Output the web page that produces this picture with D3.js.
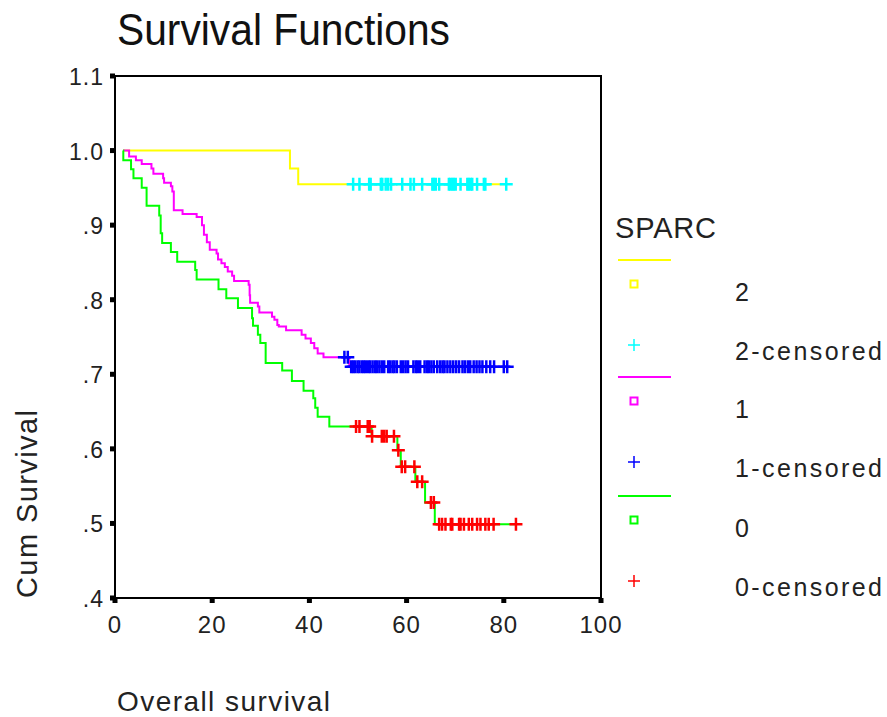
<!DOCTYPE html>
<html>
<head>
<meta charset="utf-8">
<script src="https://cdn.jsdelivr.net/npm/d3@7"></script>
<style>
  html, body { margin: 0; padding: 0; background: #fff; }
  svg { display: block; font-family: "Liberation Sans", Arial, sans-serif; }
</style>
</head>
<body>
<div id="chart"></div>
<script>
// Kaplan-Meier steps: time of each drop and the new survival
const g2Time = [1.7, 36.0, 37.7];
const g2Surv = [1.0, 0.976, 0.955];
const g2Cens = [49.0, 50.3, 52.3, 52.6, 54.7, 55.0, 55.7, 56.2, 56.8, 59.1, 60.8, 61.5, 63.2, 65.3, 65.6,
  66.0, 66.7, 68.7, 69.0, 69.4, 69.7, 70.1, 71.1, 72.5, 72.8, 73.2, 73.5, 74.5, 75.9, 76.2, 80.5];

const g1Time = [1.7, 2.9, 4.3, 5.5, 7.5, 7.9, 9.9, 10.1, 11.5, 11.8, 12.1, 13.9, 16.8, 17.9, 18.3, 18.9, 19.5,
  20.9, 21.2, 21.9, 22.6, 23.2, 24.1, 24.5, 27.5, 27.7, 27.8, 29.4, 29.7, 32.3, 32.8, 33.4, 33.7, 35.2,
  38.4, 39.2, 40.3, 41.0, 41.7, 42.9, 48.2];
const g1Surv = [1.0, 0.992, 0.987, 0.982, 0.976, 0.969, 0.963, 0.957, 0.952, 0.945, 0.920, 0.915, 0.911, 0.900,
  0.887, 0.877, 0.867, 0.862, 0.854, 0.849, 0.844, 0.838, 0.832, 0.825, 0.820, 0.806, 0.796, 0.791, 0.783,
  0.777, 0.773, 0.766, 0.764, 0.759, 0.753, 0.748, 0.742, 0.735, 0.728, 0.723, 0.710];
const g1Cens = [47.2, 47.9, 48.6, 49.0, 49.4, 49.9, 50.3, 50.8, 51.2, 51.6, 52.1, 52.5, 53.0, 53.5, 53.9, 54.4,
  54.9, 55.4, 56.2, 56.6, 57.1, 57.5, 58.0, 58.8, 59.3, 59.8, 60.3, 61.4, 61.9, 62.3, 62.8, 63.7, 64.2,
  64.6, 65.1, 65.6, 66.3, 66.9, 67.4, 67.8, 68.4, 69.0, 69.6, 70.2, 70.8, 71.5, 72.0, 72.6, 73.1, 73.8,
  74.4, 75.0, 75.6, 76.4, 77.2, 78.0, 80.0, 80.7];

const g0Time = [1.7, 1.71, 3.3, 3.8, 5.5, 6.5, 9.1, 9.4, 9.7, 11.5, 12.8, 16.5, 16.8, 21.3, 22.9, 25.3, 28.2, 28.4,
  29.4, 29.9, 31.0, 34.4, 36.4, 38.8, 40.8, 41.2, 41.7, 44.1, 52.8, 58.1, 58.8, 61.8, 63.8, 65.8];
const g0Surv = [1.0, 0.987, 0.975, 0.963, 0.950, 0.926, 0.913, 0.889, 0.876, 0.864, 0.851, 0.840, 0.827, 0.814,
  0.802, 0.789, 0.775, 0.765, 0.753, 0.742, 0.715, 0.705, 0.691, 0.678, 0.668, 0.655, 0.643, 0.630, 0.617,
  0.598, 0.576, 0.556, 0.528, 0.499];
const g0Cens = [49.6, 50.3, 52.0, 52.4, 52.9, 54.9, 55.4, 55.9, 57.4, 58.3, 59.0, 59.7, 61.6, 62.2, 63.2, 65.0,
  65.6, 66.7, 67.3, 68.0, 69.1, 69.4, 70.8, 71.1, 71.8, 72.8, 73.5, 74.5, 75.2, 76.2, 76.9, 77.9, 82.5];

const xTicks = [0, 20, 40, 60, 80, 100];
const yTicks = [0.4, 0.5, 0.6, 0.7, 0.8, 0.9, 1.0, 1.1];
const yTickLabels = ['.4', '.5', '.6', '.7', '.8', '.9', '1.0', '1.1'];
const legendLabels = ['2', '2-censored', '1', '1-censored', '0', '0-censored'];

const groups = [
  { time: g2Time, surv: g2Surv, cens: g2Cens, line: '#ffff00', mark: '#00ffff' },
  { time: g1Time, surv: g1Surv, cens: g1Cens, line: '#ff00ff', mark: '#0000ff' },
  { time: g0Time, surv: g0Surv, cens: g0Cens, line: '#00ff00', mark: '#ff0000' }
];

const W = 887, H = 717, m = { l: 115, r: 601, t: 76, b: 598 };
const svg = d3.select('#chart').append('svg').attr('width', W).attr('height', H);

const x = d3.scaleLinear().domain([0, 100]).range([m.l, m.r]);
const y = d3.scaleLinear().domain([0.4, 1.1]).range([m.b, m.t]);

// survival at time t from the step table
const survAt = (g, t) => { let s = g.surv[0]; g.time.forEach((tt, i) => { if (tt <= t) s = g.surv[i]; }); return s; };

const line = d3.line().x(d => x(d[0])).y(d => y(d[1])).curve(d3.curveStepAfter);
const plus = (sel, cx, cy, r, color, w) => {
  sel.append('path')
    .attr('d', `M${cx - r},${cy}H${cx + r}M${cx},${cy - r}V${cy + r}`)
    .attr('stroke', color).attr('stroke-width', w).attr('fill', 'none');
};

const plot = svg.append('g');
groups.forEach(g => {
  const pts = g.time.map((t, i) => [t, g.surv[i]]);
  const end = d3.max(g.cens);
  pts.push([end, g.surv[g.surv.length - 1]]);
  plot.append('path').attr('d', line(pts)).attr('fill', 'none')
    .attr('stroke', g.line).attr('stroke-width', 2);
  g.cens.forEach(t => plus(plot, x(t), y(survAt(g, t)), 6.5, g.mark, 2.5));
});

// frame and axes
svg.append('rect').attr('x', m.l).attr('y', m.t).attr('width', m.r - m.l).attr('height', m.b - m.t)
  .attr('fill', 'none').attr('stroke', '#000').attr('stroke-width', 2);

svg.append('g').selectAll('rect').data(yTicks).join('rect')
  .attr('x', m.l - 5).attr('y', d => y(d) - 2.5).attr('width', 5).attr('height', 5).attr('fill', '#000');
svg.append('g').selectAll('rect').data(xTicks).join('rect')
  .attr('x', d => x(d) - 2.5).attr('y', m.b).attr('width', 5).attr('height', 5).attr('fill', '#000');

svg.append('g').selectAll('text').data(yTicks).join('text')
  .attr('x', 104).attr('y', d => y(d) + 9).attr('text-anchor', 'end')
  .attr('font-size', 23).attr('fill', '#222').attr('letter-spacing', 1)
  .text((d, i) => yTickLabels[i]);
svg.append('g').selectAll('text').data(xTicks).join('text')
  .attr('x', d => x(d)).attr('y', 633).attr('text-anchor', 'middle')
  .attr('font-size', 24).attr('fill', '#222').attr('letter-spacing', 1)
  .text(d => d);

// titles
svg.append('text').attr('x', 117).attr('y', 45).attr('font-size', 45).attr('fill', '#111')
  .attr('textLength', 333).attr('lengthAdjust', 'spacingAndGlyphs').text('Survival Functions');
svg.append('text').attr('x', 117).attr('y', 711).attr('font-size', 28).attr('fill', '#222')
  .attr('textLength', 213).attr('lengthAdjust', 'spacing').text('Overall survival');
svg.append('text').attr('transform', 'translate(37,598) rotate(-90)').attr('font-size', 29).attr('fill', '#222')
  .attr('textLength', 188).attr('lengthAdjust', 'spacing').text('Cum Survival');

// legend
const lg = svg.append('g');
lg.append('text').attr('x', 615).attr('y', 238).attr('font-size', 29).attr('fill', '#222')
  .attr('textLength', 101).attr('lengthAdjust', 'spacing').text('SPARC');
const legendTop = [260, 377, 496];
groups.forEach((g, i) => {
  const y0 = legendTop[i];
  lg.append('line').attr('x1', 618).attr('x2', 671).attr('y1', y0).attr('y2', y0)
    .attr('stroke', g.line).attr('stroke-width', 2);
  lg.append('rect').attr('x', 630.5).attr('y', y0 + 20.5).attr('width', 7).attr('height', 7)
    .attr('fill', 'none').attr('stroke', g.line).attr('stroke-width', 2);
  plus(lg, 634, y0 + 85, 6, g.mark, 1.5);
  lg.append('text').attr('x', 735).attr('y', y0 + 41).attr('font-size', 25).attr('fill', '#222')
    .text(legendLabels[i * 2]);
  lg.append('text').attr('x', 735).attr('y', y0 + 100).attr('font-size', 25).attr('fill', '#222')
    .attr('textLength', 147).attr('lengthAdjust', 'spacing').text(legendLabels[i * 2 + 1]);
});
</script>
</body>
</html>
